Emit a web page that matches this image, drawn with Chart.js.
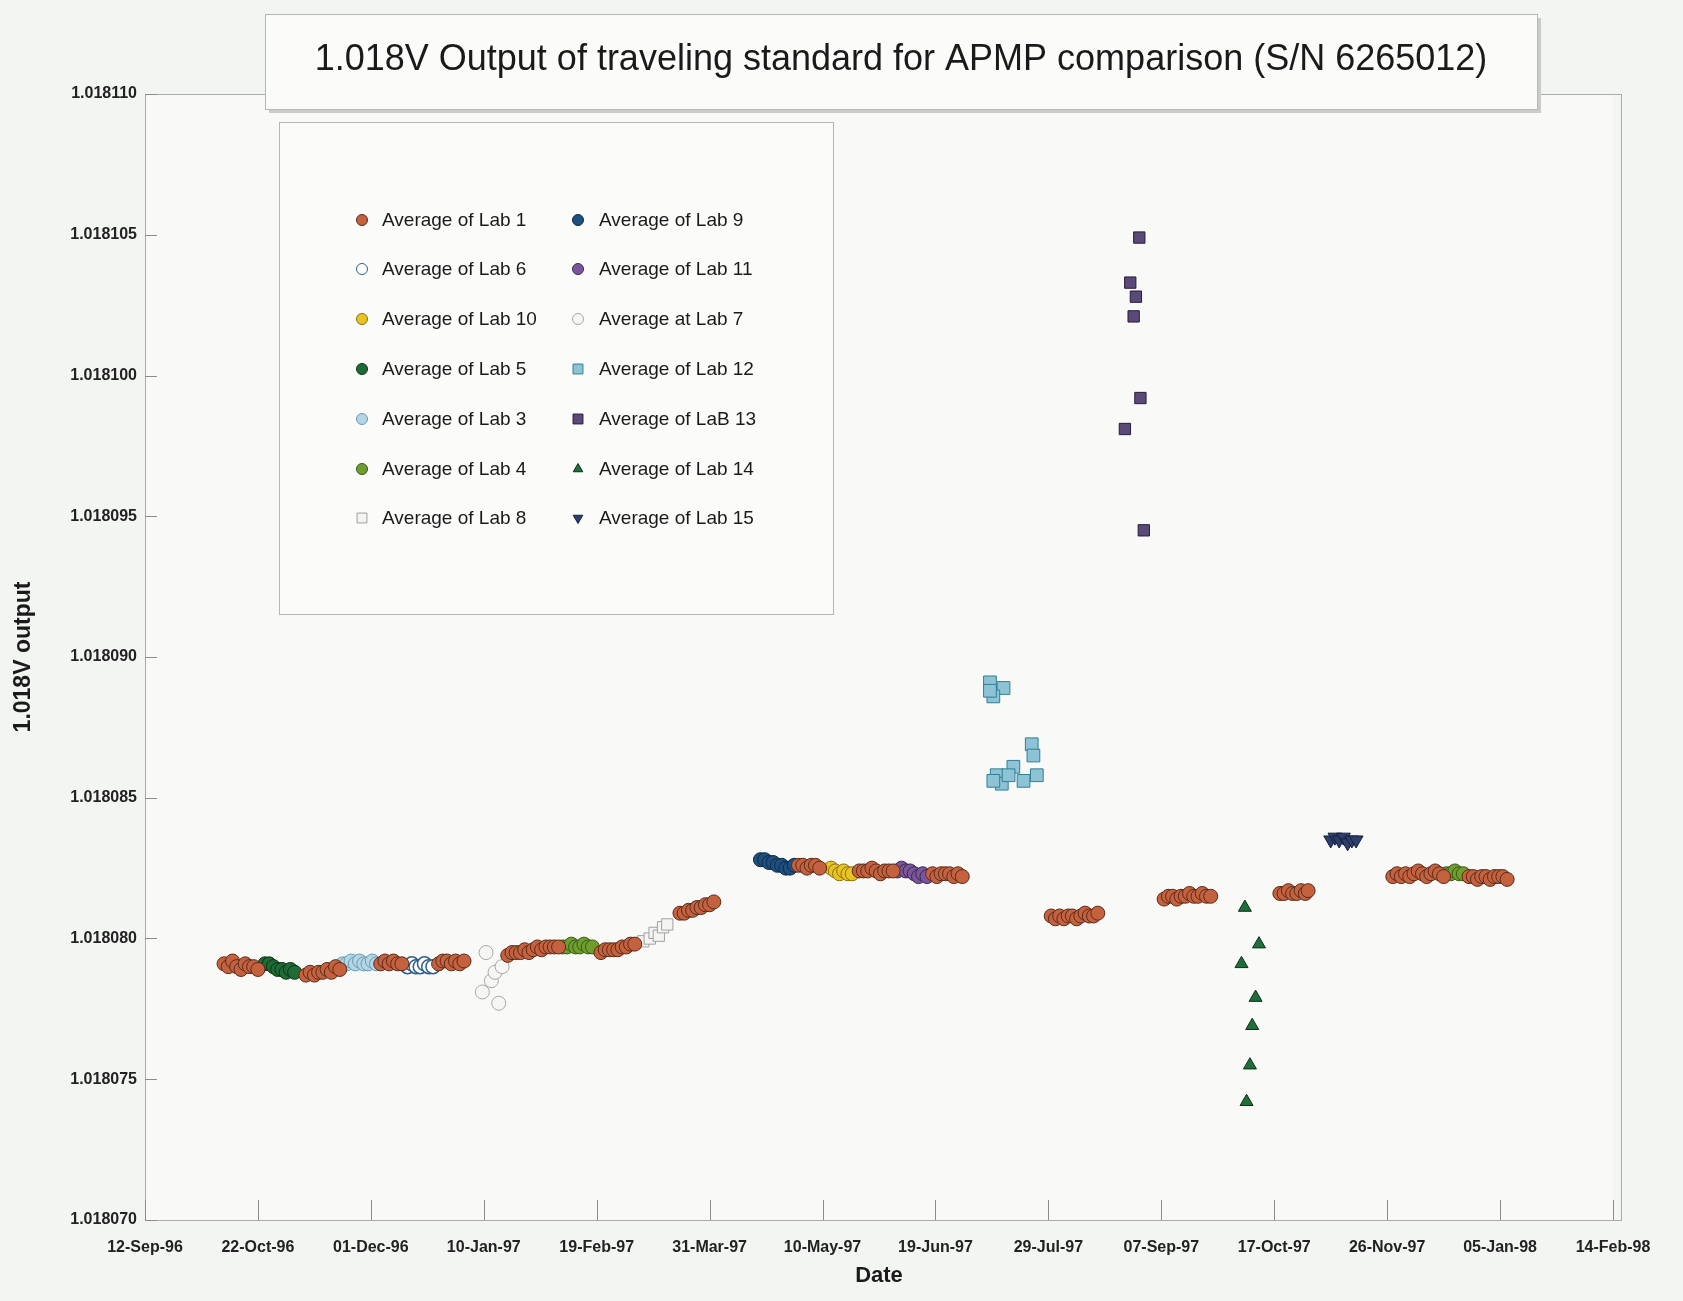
<!DOCTYPE html>
<html>
<head>
<meta charset="utf-8">
<script src="https://cdn.jsdelivr.net/npm/chart.js@4.4.1/dist/chart.umd.min.js"></script>
<style>
  html, body { margin: 0; padding: 0; background: #f2f5f2; }
  #wrap { width: 1683px; height: 1301px; }
</style>
</head>
<body>
<div id="wrap"><canvas id="grafico" width="1683" height="1301"></canvas></div>
<script>
// dias contados desde 12-Sep-96
const DIA0 = Date.UTC(1996, 8, 12);
const MESES = ["Jan", "Feb", "Mar", "Apr", "May", "Jun", "Jul", "Aug", "Sep", "Oct", "Nov", "Dec"];
const yTicks = [1.018070, 1.018075, 1.018080, 1.018085, 1.018090, 1.018095, 1.018100, 1.018105, 1.018110];

const lab1Dias = [28, 29.5, 31, 32.5, 34, 35.5, 37, 38.5, 40,
  57, 58.5, 60, 61.5, 63, 64.5, 66, 67.5, 69,
  83.5, 85, 86.5, 88, 89.5, 91,
  104, 105.5, 107, 108.5, 110, 111.5, 113,
  128.5, 130, 131.5, 133, 134.5, 136, 137.5, 139, 140.5, 142, 143.5, 145, 146.5,
  161.5, 163, 164.5, 166, 167.5, 169, 170.5, 172, 173.5,
  189.5, 191, 192.5, 194, 195.5, 197, 198.5, 200, 201.5,
  231.5, 233, 234.5, 236, 237.5, 239,
  253, 254.5, 256, 257.5, 259, 260.5, 262, 263.5, 265,
  279, 280.5, 282, 283.5, 285, 286.5, 288, 289.5,
  321, 322.5, 324, 325.5, 327, 328.5, 330, 331.5, 333, 334.5, 336, 337.5,
  361, 362.5, 364, 365.5, 367, 368.5, 370, 371.5, 373, 374.5, 376, 377.5,
  402, 403.5, 405, 406.5, 408, 409.5, 411, 412,
  442, 443.5, 445, 446.5, 448, 449.5, 451, 452.5, 454, 455.5, 457, 458.5, 460,
  469, 470.5, 472, 473.5, 475, 476.5, 478, 479.5, 481, 482.5];
const lab1Valores = [1.0180791, 1.0180790, 1.0180792, 1.0180790, 1.0180789, 1.0180791, 1.0180790, 1.0180790, 1.0180789,
  1.0180787, 1.0180788, 1.0180787, 1.0180788, 1.0180788, 1.0180789, 1.0180788, 1.0180790, 1.0180789,
  1.0180791, 1.0180792, 1.0180791, 1.0180792, 1.0180791, 1.0180791,
  1.0180791, 1.0180792, 1.0180792, 1.0180791, 1.0180792, 1.0180791, 1.0180792,
  1.0180794, 1.0180795, 1.0180795, 1.0180795, 1.0180796, 1.0180795, 1.0180796, 1.0180797, 1.0180796, 1.0180797, 1.0180797, 1.0180797, 1.0180797,
  1.0180795, 1.0180796, 1.0180796, 1.0180796, 1.0180796, 1.0180797, 1.0180797, 1.0180798, 1.0180798,
  1.0180809, 1.0180809, 1.0180810, 1.0180810, 1.0180811, 1.0180811, 1.0180812, 1.0180812, 1.0180813,
  1.0180826, 1.0180826, 1.0180825, 1.0180826, 1.0180826, 1.0180825,
  1.0180824, 1.0180824, 1.0180824, 1.0180825, 1.0180824, 1.0180823, 1.0180824, 1.0180824, 1.0180824,
  1.0180823, 1.0180822, 1.0180823, 1.0180823, 1.0180823, 1.0180822, 1.0180823, 1.0180822,
  1.0180808, 1.0180807, 1.0180808, 1.0180807, 1.0180808, 1.0180808, 1.0180807, 1.0180808, 1.0180809, 1.0180808, 1.0180808, 1.0180809,
  1.0180814, 1.0180815, 1.0180815, 1.0180814, 1.0180815, 1.0180815, 1.0180816, 1.0180815, 1.0180815, 1.0180816, 1.0180815, 1.0180815,
  1.0180816, 1.0180816, 1.0180817, 1.0180816, 1.0180816, 1.0180817, 1.0180816, 1.0180817,
  1.0180822, 1.0180823, 1.0180822, 1.0180823, 1.0180822, 1.0180823, 1.0180824, 1.0180823, 1.0180822, 1.0180823, 1.0180824, 1.0180823, 1.0180822,
  1.0180822, 1.0180822, 1.0180821, 1.0180822, 1.0180822, 1.0180821, 1.0180822, 1.0180822, 1.0180822, 1.0180821];

const lab5Dias = [42.5, 44, 45.5, 47, 48.5, 50, 51.5, 53];
const lab5Valores = [1.0180791, 1.0180791, 1.0180790, 1.0180789, 1.0180789, 1.0180788, 1.0180789, 1.0180788];

const lab3Dias = [70, 71.5, 73, 74.5, 76, 77.5, 79, 80.5, 82];
const lab3Valores = [1.0180791, 1.0180791, 1.0180792, 1.0180791, 1.0180792, 1.0180791, 1.0180791, 1.0180792, 1.0180791];

const lab6Dias = [93, 94.5, 96, 97.5, 99, 100.5, 102];
const lab6Valores = [1.0180790, 1.0180791, 1.0180790, 1.0180790, 1.0180791, 1.0180790, 1.0180790];

const lab7Dias = [119.5, 120.8, 122.7, 124.0, 125.3, 126.5];
const lab7Valores = [1.0180781, 1.0180795, 1.0180785, 1.0180788, 1.0180777, 1.0180790];

const lab4Dias = [148, 149.5, 151, 152.5, 154, 155.5, 157, 158.5, 461, 462.5, 464, 465.5, 467];
const lab4Valores = [1.0180797, 1.0180797, 1.0180798, 1.0180797, 1.0180797, 1.0180798, 1.0180797, 1.0180797,
  1.0180823, 1.0180823, 1.0180824, 1.0180823, 1.0180823];

const lab8Dias = [176.5, 178.8, 180.5, 182, 183.5, 185];
const lab8Valores = [1.0180799, 1.0180800, 1.0180802, 1.0180801, 1.0180804, 1.0180805];

const lab9Dias = [218, 219.5, 221, 222.5, 224, 225.5, 227, 228.5, 230];
const lab9Valores = [1.0180828, 1.0180828, 1.0180827, 1.0180827, 1.0180826, 1.0180826, 1.0180825, 1.0180825, 1.0180826];

const lab10Dias = [243, 244.5, 246, 247.5, 249, 250.5];
const lab10Valores = [1.0180825, 1.0180824, 1.0180823, 1.0180824, 1.0180823, 1.0180823];

const lab11Dias = [266.5, 268, 269.5, 271, 272.5, 274, 275.5, 277];
const lab11Valores = [1.0180824, 1.0180825, 1.0180824, 1.0180824, 1.0180823, 1.0180822, 1.0180823, 1.0180822];

const lab12Dias = [299.3, 304.1, 300.5, 299.3, 314.1, 314.7, 301.7, 307.6, 303.5, 311.2, 315.9, 300.5, 305.9];
const lab12Valores = [1.0180891, 1.0180889, 1.0180886, 1.0180888, 1.0180869, 1.0180865, 1.0180858, 1.0180861, 1.0180855, 1.0180856, 1.0180858, 1.0180856, 1.0180858];

const lab13Dias = [352.2, 349.0, 351.0, 350.2, 352.6, 347.1, 353.8];
const lab13Valores = [1.0181049, 1.0181033, 1.0181028, 1.0181021, 1.0180992, 1.0180981, 1.0180945];

const lab14Dias = [389.6, 394.6, 388.4, 393.4, 392.2, 391.4, 390.2];
const lab14Valores = [1.0180811, 1.0180798, 1.0180791, 1.0180779, 1.0180769, 1.0180755, 1.0180742];

const lab15Dias = [420, 421.5, 423, 424.5, 426, 427.5, 429];
const lab15Valores = [1.0180835, 1.0180836, 1.0180835, 1.0180836, 1.0180834, 1.0180835, 1.0180835];

const FUENTE = "'Liberation Sans', Arial, sans-serif";

function pares(dias, valores) {
  return dias.map((d, i) => ({ x: d, y: valores[i] }));
}

function serie(label, dias, valores, estilo) {
  return Object.assign({
    label,
    data: pares(dias, valores),
    pointStyle: "circle",
    pointRadius: 7,
    pointBorderWidth: 1,
    pointRotation: 0
  }, estilo);
}

const series = [
  serie("Average of Lab 1", lab1Dias, lab1Valores, { backgroundColor: "#c4623f", borderColor: "#5a2a1a" }),
  serie("Average of Lab 6", lab6Dias, lab6Valores, { backgroundColor: "#ffffff", borderColor: "#2f5f8f", pointBorderWidth: 1.5 }),
  serie("Average of Lab 10", lab10Dias, lab10Valores, { backgroundColor: "#e8c422", borderColor: "#8a7010" }),
  serie("Average of Lab 5", lab5Dias, lab5Valores, { backgroundColor: "#1f6b35", borderColor: "#0d3018" }),
  serie("Average of Lab 3", lab3Dias, lab3Valores, { backgroundColor: "#b3d6e6", borderColor: "#6a9ab0" }),
  serie("Average of Lab 4", lab4Dias, lab4Valores, { backgroundColor: "#6f9e2e", borderColor: "#3a5a18" }),
  serie("Average of Lab 8", lab8Dias, lab8Valores, { backgroundColor: "#f4f4f2", borderColor: "#a0a0a0", pointStyle: "rect", pointRadius: 8 }),
  serie("Average of Lab 9", lab9Dias, lab9Valores, { backgroundColor: "#1f4f7f", borderColor: "#0d2a48" }),
  serie("Average of Lab 11", lab11Dias, lab11Valores, { backgroundColor: "#7a559a", borderColor: "#3a2a50" }),
  serie("Average at Lab 7", lab7Dias, lab7Valores, { backgroundColor: "#f6f6f4", borderColor: "#a8a8a8" }),
  serie("Average of Lab 12", lab12Dias, lab12Valores, { backgroundColor: "#8ec3d6", borderColor: "#2f7f94", pointStyle: "rect", pointRadius: 9 }),
  serie("Average of LaB 13", lab13Dias, lab13Valores, { backgroundColor: "#5a4a78", borderColor: "#2a1a3a", pointStyle: "rect", pointRadius: 8 }),
  serie("Average of Lab 14", lab14Dias, lab14Valores, { backgroundColor: "#1f6e3c", borderColor: "#0c3018", pointStyle: "triangle", pointRadius: 7.5 }),
  serie("Average of Lab 15", lab15Dias, lab15Valores, { backgroundColor: "#2d3d6e", borderColor: "#151f3a", pointStyle: "triangle", pointRadius: 8, pointRotation: 180 })
];

// orden de la leyenda: dos columnas
const leyendaIzq = [0, 1, 2, 3, 4, 5, 6];
const leyendaDer = [7, 8, 9, 10, 11, 12, 13];
const leyendaFilas = [220, 269, 319, 369, 419, 469, 518];

function dosDigitos(n) { return (n < 10 ? "0" : "") + n; }

function fechaTick(d) {
  const f = new Date(DIA0 + Math.round(d) * 86400000);
  return dosDigitos(f.getUTCDate()) + "-" + MESES[f.getUTCMonth()] + "-" + String(f.getUTCFullYear()).slice(2);
}

const decoracion = {
  id: "decoracion",
  beforeDraw(chart) {
    const { ctx, chartArea: a } = chart;
    ctx.save();
    ctx.fillStyle = "#f2f5f2";
    ctx.fillRect(0, 0, chart.width, chart.height);
    ctx.fillStyle = "#f9faf8";
    ctx.fillRect(a.left, a.top, a.right - a.left, a.bottom - a.top);
    ctx.restore();
  },
  afterDraw(chart) {
    const { ctx, chartArea: a, scales } = chart;
    ctx.save();

    // marco del area
    ctx.strokeStyle = "#a9aca9";
    ctx.lineWidth = 1;
    ctx.strokeRect(a.left + 0.5, a.top + 0.5, a.right - a.left + 8, a.bottom - a.top);

    // marcas interiores
    ctx.strokeStyle = "#8a8d8a";
    scales.y.ticks.forEach((t) => {
      const py = Math.round(scales.y.getPixelForValue(t.value)) + 0.5;
      ctx.beginPath();
      ctx.moveTo(a.left, py);
      ctx.lineTo(a.left + 12, py);
      ctx.stroke();
    });
    scales.x.ticks.forEach((t) => {
      const px = Math.round(scales.x.getPixelForValue(t.value)) + 0.5;
      ctx.beginPath();
      ctx.moveTo(px, a.bottom);
      ctx.lineTo(px, a.bottom - 20);
      ctx.stroke();
    });

    // caja del titulo
    ctx.fillStyle = "#c9ccc9";
    ctx.fillRect(269, 18, 1272, 95);
    ctx.fillStyle = "#fbfbfa";
    ctx.fillRect(265, 14, 1272, 95);
    ctx.strokeStyle = "#b5b8b5";
    ctx.strokeRect(265.5, 14.5, 1272, 95);
    ctx.fillStyle = "#1a1a1a";
    ctx.font = "36px " + FUENTE;
    ctx.textAlign = "center";
    ctx.textBaseline = "middle";
    ctx.fillText("1.018V Output of traveling standard for APMP comparison (S/N 6265012)", 901, 60);

    // caja de la leyenda
    ctx.fillStyle = "#fbfbfa";
    ctx.fillRect(279, 122, 554, 492);
    ctx.strokeStyle = "#b5b8b5";
    ctx.strokeRect(279.5, 122.5, 554, 492);

    ctx.font = "19px " + FUENTE;
    ctx.textAlign = "left";
    const dibujar = (idx, mx, tx, y) => {
      const ds = chart.data.datasets[idx];
      ctx.fillStyle = ds.backgroundColor;
      ctx.strokeStyle = ds.borderColor;
      ctx.lineWidth = 1;
      Chart.helpers.drawPoint(ctx, {
        pointStyle: ds.pointStyle,
        radius: ds.pointStyle === "rect" ? 7 : 5.5,
        rotation: ds.pointRotation,
        borderWidth: 1
      }, mx, y);
      ctx.fillStyle = "#1a1a1a";
      ctx.fillText(ds.label, tx, y + 1);
    };
    leyendaIzq.forEach((idx, i) => dibujar(idx, 362, 382, leyendaFilas[i]));
    leyendaDer.forEach((idx, i) => dibujar(idx, 578, 599, leyendaFilas[i]));

    ctx.restore();
  }
};

new Chart(document.getElementById("grafico"), {
  type: "scatter",
  data: { datasets: series },
  options: {
    responsive: false,
    animation: false,
    devicePixelRatio: 1,
    layout: { padding: { top: 94, right: 70, bottom: 0, left: 0 } },
    plugins: {
      legend: { display: false },
      tooltip: { enabled: false }
    },
    scales: {
      x: {
        type: "linear",
        min: 0,
        max: 520,
        afterFit: (s) => { s.height = 81; },
        afterBuildTicks: (s) => {
          s.ticks = [];
          for (let d = 0; d <= 520; d += 40) s.ticks.push({ value: d });
        },
        grid: { display: false },
        border: { display: false },
        ticks: {
          autoSkip: false,
          maxRotation: 0,
          padding: 10,
          color: "#222",
          font: { family: FUENTE, size: 16, weight: "bold" },
          callback: (v) => fechaTick(v)
        },
        title: {
          display: true,
          text: "Date",
          color: "#1a1a1a",
          font: { family: FUENTE, size: 22, weight: "bold" },
          padding: { top: 0, bottom: 12 }
        }
      },
      y: {
        type: "linear",
        min: 1.018070,
        max: 1.018110,
        afterFit: (s) => { s.width = 145; },
        afterBuildTicks: (s) => { s.ticks = yTicks.map((v) => ({ value: v })); },
        grid: { display: false },
        border: { display: false },
        ticks: {
          padding: 0,
          color: "#222",
          font: { family: FUENTE, size: 16, weight: "bold" },
          callback: (v) => Number(v).toFixed(6)
        },
        title: {
          display: true,
          text: "1.018V output",
          color: "#1a1a1a",
          font: { family: FUENTE, size: 23, weight: "bold" },
          padding: { top: 10, bottom: 0 }
        }
      }
    }
  },
  plugins: [decoracion]
});
</script>
</body>
</html>
